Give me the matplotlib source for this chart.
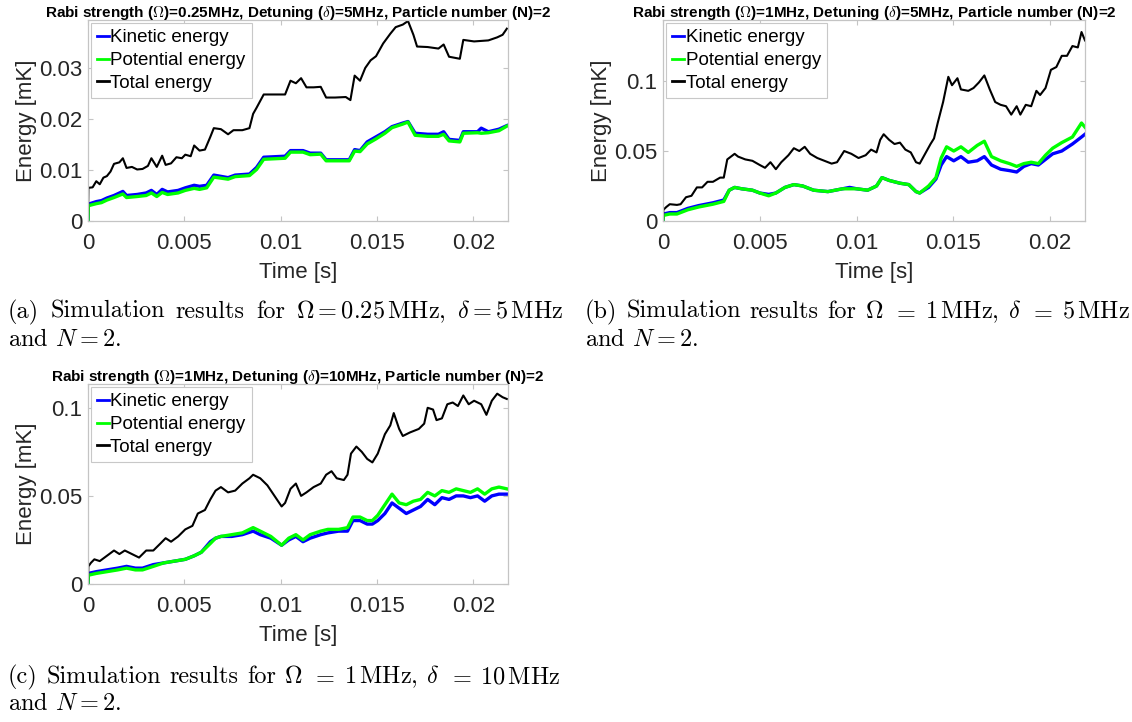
import matplotlib
matplotlib.use("Agg")
import matplotlib.pyplot as plt

plt.rcParams['mathtext.fontset'] = 'cm'
plt.rcParams['font.family'] = ['Liberation Sans', 'DejaVu Sans']

# ---------------- data ----------------
x_ticks = [0, 0.005, 0.01, 0.015, 0.02]
x_tick_labels = ['0', '0.005', '0.01', '0.015', '0.02']
y_ticks_a = [0, 0.01, 0.02, 0.03]
y_tick_labels_a = ['0', '0.01', '0.02', '0.03']
y_ticks_bc = [0, 0.05, 0.1]
y_tick_labels_bc = ['0', '0.05', '0.1']
series_labels = ['Kinetic energy', 'Potential energy', 'Total energy']

titles = [
    r"Rabi strength ($\Omega$)=0.25MHz, Detuning ($\delta$)=5MHz, Particle number (N)=2",
    r"Rabi strength ($\Omega$)=1MHz, Detuning ($\delta$)=5MHz, Particle number (N)=2",
    r"Rabi strength ($\Omega$)=1MHz, Detuning ($\delta$)=10MHz, Particle number (N)=2",
]

# Panel (a)
t_a_tot = [0, 0.00002, 0.00024, 0.00043, 0.00061, 0.0008, 0.00098, 0.00117, 0.00135, 0.00163,
           0.00181, 0.002, 0.00228, 0.00255, 0.00283, 0.00311, 0.00329, 0.00357, 0.00385, 0.00403,
           0.00431, 0.00459, 0.00487, 0.00505, 0.00533, 0.00551, 0.00579, 0.00607, 0.00635, 0.00653,
           0.0069, 0.00727, 0.00755, 0.00801, 0.00838, 0.00857, 0.00875, 0.00912, 0.00949, 0.01023,
           0.01051, 0.01079, 0.01106, 0.01134, 0.01171, 0.01208, 0.01236, 0.01282, 0.01338, 0.01362,
           0.01384, 0.01412, 0.01439, 0.01467, 0.01495, 0.01532, 0.01569, 0.01597, 0.01634, 0.01661,
           0.01689, 0.01708, 0.01763, 0.01819, 0.01846, 0.01874, 0.0193, 0.01948, 0.02004, 0.02078,
           0.02124, 0.02152, 0.02174]
e_a_tot = [0, 0.0065, 0.0066, 0.0078, 0.0072, 0.0085, 0.0088, 0.0097, 0.0112, 0.0115,
           0.0123, 0.0104, 0.0106, 0.0101, 0.0102, 0.0108, 0.0123, 0.0106, 0.0128, 0.0110,
           0.0113, 0.0125, 0.0123, 0.0130, 0.0127, 0.0148, 0.0138, 0.0140, 0.0165, 0.0182,
           0.0180, 0.0170, 0.0178, 0.0178, 0.0182, 0.0210, 0.0222, 0.0248, 0.0248, 0.0248,
           0.0275, 0.0270, 0.0280, 0.0262, 0.0262, 0.0263, 0.0242, 0.0242, 0.0243, 0.0237,
           0.0285, 0.0275, 0.0300, 0.0315, 0.0323, 0.0348, 0.0367, 0.0380, 0.0385, 0.0392,
           0.0365, 0.0342, 0.0341, 0.0338, 0.0346, 0.0322, 0.0318, 0.0355, 0.0352, 0.0354,
           0.0360, 0.0365, 0.0377]
t_a_kp = [0, 0.00002, 0.00043, 0.0007, 0.00098, 0.00135, 0.00181, 0.002, 0.00255, 0.00302, 0.00329,
          0.00357, 0.00385, 0.00413, 0.00468, 0.00505, 0.00551, 0.00579, 0.00616, 0.00653, 0.00727,
          0.00764, 0.00838, 0.00875, 0.00912, 0.01023, 0.01051, 0.01116, 0.01153, 0.01208, 0.01236,
          0.01356, 0.01384, 0.01412, 0.01449, 0.01495, 0.01541, 0.01578, 0.01634, 0.01661, 0.01698,
          0.01763, 0.01819, 0.01846, 0.01874, 0.0193, 0.01948, 0.02022, 0.02041, 0.02078, 0.02133,
          0.02174]
e_a_kin = [0, 0.0033, 0.0038, 0.0040, 0.0045, 0.0050, 0.0058, 0.0050, 0.0052, 0.0055, 0.0060,
           0.0052, 0.0062, 0.0057, 0.0060, 0.0065, 0.0070, 0.0068, 0.0070, 0.0090, 0.0085,
           0.0090, 0.0092, 0.0105, 0.0125, 0.0127, 0.0138, 0.0138, 0.0133, 0.0133, 0.0120,
           0.0120, 0.0140, 0.0138, 0.0155, 0.0165, 0.0175, 0.0185, 0.0192, 0.0195, 0.0172,
           0.0170, 0.0170, 0.0175, 0.0160, 0.0158, 0.0175, 0.0175, 0.0182, 0.0175, 0.0180,
           0.0187]
e_a_pot = [0, 0.0030, 0.0034, 0.0036, 0.0041, 0.0046, 0.0053, 0.0046, 0.0048, 0.0050, 0.0055,
           0.0048, 0.0056, 0.0052, 0.0055, 0.0060, 0.0064, 0.0062, 0.0065, 0.0086, 0.0082,
           0.0087, 0.0089, 0.0101, 0.0121, 0.0123, 0.0135, 0.0135, 0.0130, 0.0131, 0.0118,
           0.0118, 0.0137, 0.0136, 0.0151, 0.0161, 0.0172, 0.0183, 0.0190, 0.0194, 0.0168,
           0.0166, 0.0166, 0.0170, 0.0157, 0.0155, 0.0172, 0.0173, 0.0172, 0.0173, 0.0177,
           0.0186]

# Panel (b)
t_b_tot = [0, 0.00002, 0.00017, 0.00035, 0.00072, 0.00091, 0.00119, 0.00147, 0.00175, 0.00202,
           0.0023, 0.00258, 0.00295, 0.00314, 0.00332, 0.0037, 0.00388, 0.00425, 0.00462, 0.005,
           0.00527, 0.00555, 0.00583, 0.00611, 0.00648, 0.00676, 0.00704, 0.00732, 0.0076, 0.00797,
           0.00834, 0.00871, 0.00899, 0.00936, 0.00973, 0.0101, 0.01047, 0.01075, 0.01103, 0.01122,
           0.0114, 0.01168, 0.01196, 0.01224, 0.01252, 0.0128, 0.01307, 0.01326, 0.01354, 0.01382,
           0.014, 0.01419, 0.01447, 0.01465, 0.01474, 0.01493, 0.01521, 0.01539, 0.01577, 0.01604,
           0.01632, 0.0166, 0.01688, 0.01716, 0.01744, 0.01772, 0.01799, 0.01827, 0.01846, 0.01874,
           0.01902, 0.01929, 0.01948, 0.01976, 0.02004, 0.02032, 0.0206, 0.02087, 0.02115, 0.02143,
           0.02162, 0.0218]
e_b_tot = [0, 0.008, 0.010, 0.012, 0.0115, 0.012, 0.017, 0.018, 0.024, 0.024,
           0.028, 0.028, 0.031, 0.031, 0.044, 0.048, 0.046, 0.044, 0.043, 0.040,
           0.038, 0.042, 0.037, 0.042, 0.047, 0.052, 0.050, 0.053, 0.048, 0.045,
           0.043, 0.041, 0.042, 0.050, 0.048, 0.045, 0.047, 0.051, 0.049, 0.058,
           0.062, 0.058, 0.055, 0.056, 0.051, 0.049, 0.042, 0.041, 0.048, 0.055,
           0.059, 0.070, 0.085, 0.097, 0.103, 0.097, 0.102, 0.094, 0.093, 0.095,
           0.099, 0.104, 0.094, 0.085, 0.083, 0.082, 0.076, 0.082, 0.076, 0.083,
           0.082, 0.093, 0.090, 0.095, 0.108, 0.110, 0.118, 0.118, 0.125, 0.124,
           0.135, 0.129]
t_b_kp = [0, 0.00002, 0.00035, 0.00072, 0.00128, 0.00184, 0.00258, 0.00314, 0.00342, 0.0037,
          0.00407, 0.00462, 0.005, 0.00546, 0.00583, 0.0063, 0.00676, 0.00722, 0.00778, 0.00852,
          0.00927, 0.00964, 0.01001, 0.01057, 0.01103, 0.01131, 0.01168, 0.01224, 0.0127, 0.01307,
          0.01326, 0.01372, 0.0141, 0.01437, 0.01465, 0.01502, 0.01539, 0.01577, 0.01623, 0.0166,
          0.01697, 0.01744, 0.0179, 0.01827, 0.01864, 0.01902, 0.01939, 0.01976, 0.02013, 0.0206,
          0.02115, 0.02162, 0.0218]
e_b_kin = [0, 0.005, 0.006, 0.006, 0.009, 0.011, 0.013, 0.015, 0.022, 0.024,
           0.023, 0.022, 0.020, 0.019, 0.020, 0.024, 0.026, 0.025, 0.022, 0.021,
           0.023, 0.024, 0.023, 0.022, 0.025, 0.031, 0.029, 0.027, 0.026, 0.021,
           0.020, 0.024, 0.030, 0.040, 0.046, 0.043, 0.046, 0.042, 0.043, 0.046,
           0.040, 0.037, 0.036, 0.035, 0.039, 0.041, 0.040, 0.044, 0.048, 0.050,
           0.055, 0.060, 0.062]
e_b_pot = [0, 0.004, 0.005, 0.005, 0.008, 0.010, 0.012, 0.014, 0.022, 0.024,
           0.023, 0.022, 0.020, 0.018, 0.020, 0.024, 0.026, 0.025, 0.022, 0.021,
           0.023, 0.023, 0.023, 0.022, 0.025, 0.031, 0.029, 0.027, 0.026, 0.021,
           0.020, 0.025, 0.031, 0.045, 0.053, 0.050, 0.053, 0.049, 0.054, 0.057,
           0.046, 0.043, 0.041, 0.039, 0.041, 0.042, 0.041, 0.047, 0.052, 0.056,
           0.060, 0.070, 0.067]

# Panel (c)
t_c_tot = [0, 0.00002, 0.00015, 0.00033, 0.00061, 0.00098, 0.00135, 0.00163, 0.00191, 0.00228,
           0.00265, 0.00302, 0.00339, 0.00376, 0.00403, 0.00431, 0.00468, 0.00505, 0.00542, 0.0057,
           0.00607, 0.00635, 0.00662, 0.0069, 0.00727, 0.00764, 0.00801, 0.00838, 0.00857, 0.00894,
           0.00931, 0.00968, 0.01005, 0.01023, 0.01051, 0.01079, 0.01106, 0.01134, 0.01171, 0.01208,
           0.01236, 0.01264, 0.01291, 0.01328, 0.01347, 0.01365, 0.01393, 0.01421, 0.01449, 0.01476,
           0.01504, 0.01541, 0.01569, 0.01587, 0.01615, 0.01634, 0.01671, 0.01717, 0.01745, 0.01763,
           0.01791, 0.01809, 0.01837, 0.01865, 0.01893, 0.0192, 0.01948, 0.01976, 0.02004, 0.02041,
           0.02068, 0.02096, 0.02124, 0.02152, 0.02174]
e_c_tot = [0, 0.010, 0.012, 0.014, 0.013, 0.016, 0.019, 0.017, 0.019, 0.017,
           0.015, 0.019, 0.019, 0.023, 0.026, 0.024, 0.027, 0.031, 0.033, 0.040,
           0.042, 0.048, 0.053, 0.055, 0.052, 0.053, 0.057, 0.060, 0.062, 0.060,
           0.056, 0.050, 0.044, 0.046, 0.054, 0.057, 0.050, 0.052, 0.055, 0.057,
           0.062, 0.064, 0.060, 0.059, 0.062, 0.074, 0.078, 0.075, 0.071, 0.069,
           0.074, 0.085, 0.090, 0.097, 0.088, 0.084, 0.086, 0.088, 0.091, 0.100,
           0.099, 0.093, 0.094, 0.102, 0.103, 0.101, 0.107, 0.102, 0.104, 0.102,
           0.096, 0.104, 0.108, 0.106, 0.105]
t_c_kp = [0, 0.00002, 0.00043, 0.00098, 0.00154, 0.002, 0.00246, 0.00283, 0.00339, 0.00394,
          0.0045, 0.00505, 0.00551, 0.00588, 0.00635, 0.00662, 0.0069, 0.00746, 0.00801, 0.00857,
          0.00894, 0.00949, 0.01005, 0.01042, 0.01079, 0.01116, 0.01153, 0.01208, 0.01245, 0.01301,
          0.01347, 0.01375, 0.01412, 0.01449, 0.01476, 0.01504, 0.01541, 0.01578, 0.01615, 0.01652,
          0.01689, 0.01726, 0.01763, 0.018, 0.01837, 0.01874, 0.01911, 0.01948, 0.01985, 0.02022,
          0.02059, 0.02096, 0.02133, 0.02174]
e_c_kin = [0, 0.006, 0.007, 0.008, 0.009, 0.010, 0.009, 0.009, 0.011, 0.012,
           0.013, 0.014, 0.016, 0.018, 0.024, 0.026, 0.027, 0.027, 0.028, 0.030,
           0.028, 0.026, 0.022, 0.025, 0.027, 0.024, 0.026, 0.028, 0.029, 0.030,
           0.030, 0.036, 0.036, 0.034, 0.034, 0.036, 0.040, 0.046, 0.043, 0.040,
           0.042, 0.044, 0.048, 0.045, 0.049, 0.048, 0.050, 0.050, 0.049, 0.050,
           0.047, 0.050, 0.051, 0.051]
e_c_pot = [0, 0.005, 0.006, 0.007, 0.008, 0.009, 0.008, 0.008, 0.010, 0.012,
           0.013, 0.014, 0.016, 0.018, 0.023, 0.026, 0.027, 0.028, 0.029, 0.032,
           0.030, 0.027, 0.022, 0.026, 0.028, 0.025, 0.028, 0.030, 0.031, 0.031,
           0.032, 0.038, 0.038, 0.036, 0.036, 0.039, 0.045, 0.051, 0.046, 0.045,
           0.047, 0.048, 0.052, 0.050, 0.053, 0.052, 0.054, 0.053, 0.052, 0.054,
           0.051, 0.054, 0.055, 0.054]

caption_words = [
    ["(a)", "Simulation", "results", "for", r"$\Omega = 0.25\,\mathrm{MHz}$,", r"$\delta = 5\,\mathrm{MHz}$"],
    ["(b)", "Simulation", "results", "for", r"$\Omega$", r"$=$", r"$1\,\mathrm{MHz}$,", r"$\delta$", r"$=$", r"$5\,\mathrm{MHz}$"],
    ["(c)", "Simulation", "results", "for", r"$\Omega$", r"$=$", r"$1\,\mathrm{MHz}$,", r"$\delta$", r"$=$", r"$10\,\mathrm{MHz}$"],
]
caption_second = "and $N = 2$."

# ---------------- figure ----------------
W, H = 1132, 722
fig = plt.figure(figsize=(W / 100, H / 100), dpi=100)
fig.patch.set_facecolor('white')

def px_axes(left, top, right, bottom):
    return fig.add_axes([left / W, 1 - bottom / H, (right - left) / W, (bottom - top) / H])

ax_a = px_axes(88, 20, 508, 221)
ax_b = px_axes(663, 20, 1085, 221)
ax_c = px_axes(88, 384, 508, 584)

panels = [
    (ax_a, t_a_kp, e_a_kin, e_a_pot, t_a_tot, e_a_tot, 0.0394, y_ticks_a, y_tick_labels_a),
    (ax_b, t_b_kp, e_b_kin, e_b_pot, t_b_tot, e_b_tot, 0.1436, y_ticks_bc, y_tick_labels_bc),
    (ax_c, t_c_kp, e_c_kin, e_c_pot, t_c_tot, e_c_tot, 0.1135, y_ticks_bc, y_tick_labels_bc),
]

spine_col = '#c4c4c4'
text_col = '#262626'

for i, (ax, tkp, ek, ep, tt, et, ymax, yt, ytl) in enumerate(panels):
    ax.plot(tkp, ek, color='#0000ff', lw=2.4, label=series_labels[0])
    ax.plot(tkp, ep, color='#00ff00', lw=2.4, label=series_labels[1])
    ax.plot(tt, et, color='black', lw=1.5, label=series_labels[2])
    ax.set_xlim(0, 0.0218)
    ax.set_ylim(0, ymax)
    ax.set_xticks(x_ticks)
    ax.set_xticklabels(x_tick_labels)
    ax.set_yticks(yt)
    ax.set_yticklabels(ytl)
    for s in ax.spines.values():
        s.set_color(spine_col)
        s.set_linewidth(0.9)
    ax.tick_params(direction='in', length=3.5, width=0.8, color=spine_col,
                   labelcolor=text_col, labelsize=16, top=True, right=True)
    ax.tick_params(axis='x', pad=8.5)
    ax.tick_params(axis='y', pad=4)
    ax.set_xlabel('Time [s]', fontsize=16, color=text_col)
    ax.xaxis.set_label_coords(0.5, -0.205)
    ax.set_ylabel('Energy [mK]', fontsize=16, color=text_col)
    ax.yaxis.set_label_coords(-0.122, 0.5)
    ax.set_title(titles[i], fontsize=11, fontweight='bold', pad=2.0, color='black')
    leg = ax.legend(loc='upper left', fontsize=13.5, handlelength=0.6, handletextpad=0.1,
                    borderpad=0.32, labelspacing=0.3, borderaxespad=0.18,
                    fancybox=False, framealpha=1, edgecolor='#c8c8c8')
    leg.get_frame().set_linewidth(0.8)
    for h in leg.get_lines():
        h.set_linewidth(2.0)

# captions, justified between the measured left/right edges
renderer = fig.canvas.get_renderer()
cap_layout = [(8, 563, 318, 346), (585, 1130, 318, 346), (8, 560, 683, 710)]
for words, (x0, x1, y1, y2) in zip(caption_words, cap_layout):
    size = 17.5
    while True:
        texts = [fig.text(x0 / W, 1 - y1 / H, w, family='cmr10', fontsize=size,
                          va='baseline', ha='left') for w in words]
        widths = [t.get_window_extent(renderer).width for t in texts]
        gap = ((x1 - x0) - sum(widths)) / (len(words) - 1)
        if gap >= 5 or size <= 12:
            break
        for t in texts:
            t.remove()
        size -= 0.25
    x = x0
    for t, wdt in zip(texts, widths):
        t.set_x(x / W)
        x += wdt + gap
    fig.text(x0 / W, 1 - y2 / H, caption_second, family='cmr10', fontsize=size,
             va='baseline', ha='left')

fig.savefig('out.png', dpi=100, facecolor='white')
